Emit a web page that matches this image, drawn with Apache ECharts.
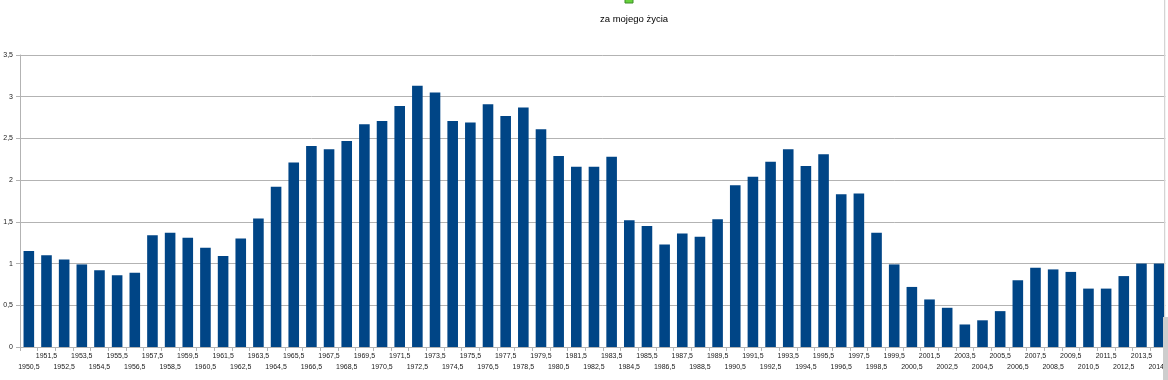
<!DOCTYPE html>
<html>
<head>
<meta charset="utf-8">
<script src="https://cdn.jsdelivr.net/npm/echarts@6/dist/echarts.min.js"></script>
<style>html,body{margin:0;padding:0;background:#fff;overflow:hidden;width:1168px;height:380px;}#c{width:1190px;height:380px;}</style>
</head>
<body>
<div id="c"></div>
<script>
const categories = [
 '1950,5','1951,5','1952,5','1953,5','1954,5','1955,5','1956,5','1957,5','1958,5','1959,5',
 '1960,5','1961,5','1962,5','1963,5','1964,5','1965,5','1966,5','1967,5','1968,5','1969,5',
 '1970,5','1971,5','1972,5','1973,5','1974,5','1975,5','1976,5','1977,5','1978,5','1979,5',
 '1980,5','1981,5','1982,5','1983,5','1984,5','1985,5','1986,5','1987,5','1988,5','1989,5',
 '1990,5','1991,5','1992,5','1993,5','1994,5','1995,5','1996,5','1997,5','1998,5','1999,5',
 '2000,5','2001,5','2002,5','2003,5','2004,5','2005,5','2006,5','2007,5','2008,5','2009,5',
 '2010,5','2011,5','2012,5','2013,5','2014,5','2015,5'
];
const values = [
 1.15,1.10,1.05,0.99,0.92,0.86,0.89,1.34,1.37,1.31,
 1.19,1.09,1.30,1.54,1.92,2.21,2.41,2.37,2.47,2.67,
 2.71,2.89,3.13,3.05,2.71,2.69,2.91,2.77,2.87,2.61,
 2.29,2.16,2.16,2.28,1.52,1.45,1.23,1.36,1.32,1.53,
 1.94,2.04,2.22,2.37,2.17,2.31,1.83,1.84,1.37,0.99,
 0.72,0.57,0.47,0.27,0.32,0.43,0.80,0.95,0.93,0.90,
 0.70,0.70,0.85,1.00,1.00,null
];
const seriesName = 'za mojego życia';

const chart = echarts.init(document.getElementById('c'));
chart.setOption({
  animation: false,
  backgroundColor: '#ffffff',
  textStyle: { fontFamily: 'Liberation Sans, Arial, sans-serif' },
  title: {
    text: seriesName,
    left: 595,
    top: 9,
    textStyle: { fontSize: 9.5, fontWeight: 'normal', color: '#000', fontFamily: 'Liberation Sans, Arial, sans-serif' }
  },
  grid: { left: 20, top: 55, bottom: 33, right: 4.4, containLabel: false, outerBoundsMode: 'none' },
  xAxis: {
    type: 'category',
    data: categories,
    boundaryGap: true,
    axisLine: { lineStyle: { color: '#b3b3b3', width: 1 } },
    axisTick: { show: true, length: 4, lineStyle: { color: '#b3b3b3' } },
    axisLabel: {
      interval: 0,
      margin: 4,
      fontSize: 7,
      lineHeight: 10.5,
      color: '#1a1a1a',
      formatter: function (v, i) { return i % 2 === 0 ? '\n' + v : v; }
    },
    splitLine: { show: false }
  },
  yAxis: {
    type: 'value',
    min: 0,
    max: 3.5,
    interval: 0.5,
    axisLine: { show: true, lineStyle: { color: '#b3b3b3', width: 1 } },
    axisTick: { show: true, length: 4, lineStyle: { color: '#b3b3b3' } },
    axisLabel: {
      fontSize: 7,
      color: '#1a1a1a',
      margin: 7,
      formatter: function (v) { return String(v).replace('.', ','); }
    },
    splitLine: { show: true, lineStyle: { color: '#b3b3b3', width: 1 } }
  },
  series: [{
    name: seriesName,
    type: 'bar',
    data: values,
    barWidth: '60%',
    itemStyle: { color: '#004586' }
  }],
  graphic: [
    { type: 'rect', z: 100, shape: { x: 625, y: -5, width: 8, height: 8 },
      style: { fill: '#66d23c', stroke: '#3c8c28', lineWidth: 1 } },
    { type: 'rect', z: 100, shape: { x: 1164, y: 0, width: 1.5, height: 317 },
      style: { fill: '#d4d4d4' } },
    { type: 'rect', z: 100, shape: { x: 1163, y: 317, width: 30, height: 63 },
      style: { fill: '#cdcdcd' } },
    { type: 'rect', z: 100, shape: { x: 1165.5, y: 0, width: 30, height: 317 },
      style: { fill: '#ffffff' } }
  ]
});
</script>
</body>
</html>
